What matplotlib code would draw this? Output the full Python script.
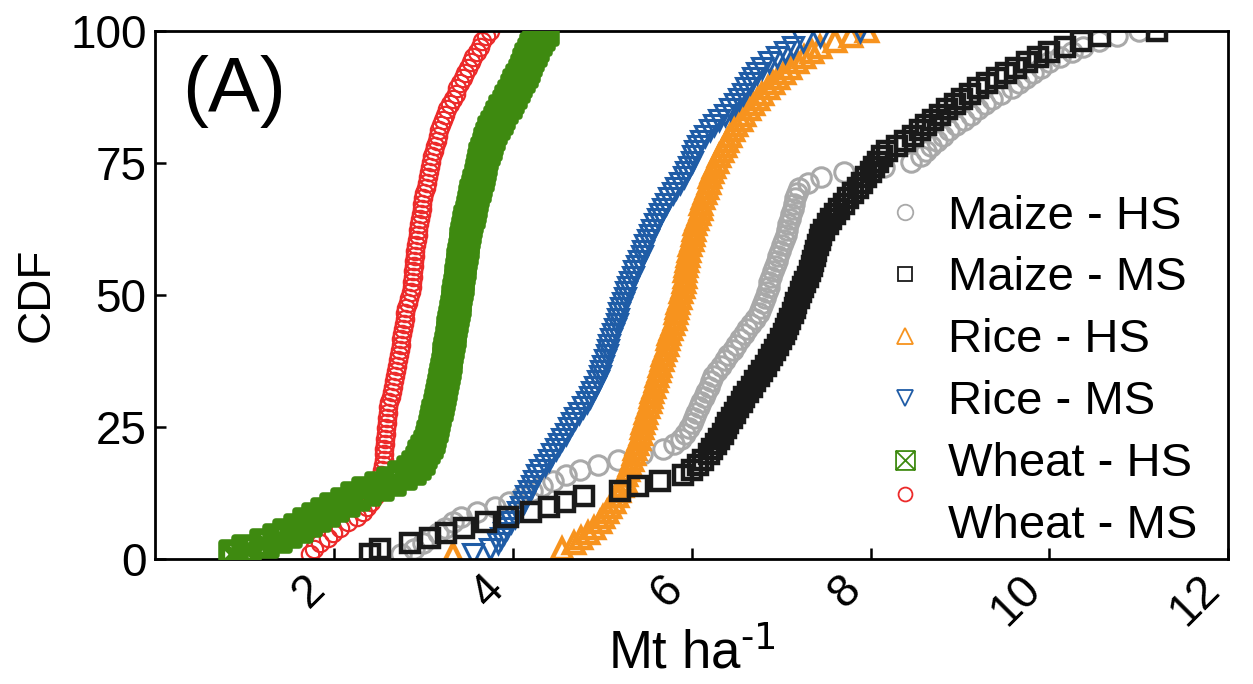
import numpy as np
import matplotlib
matplotlib.use("Agg")
import matplotlib.pyplot as plt
from matplotlib.path import Path
from matplotlib.transforms import Affine2D

plt.rcParams['font.family'] = ['Liberation Sans', 'DejaVu Sans']
plt.rcParams['mathtext.default'] = 'regular'

# Sorted yield samples (Mt ha-1), one per CDF step
maize_hs = [2.75, 2.90, 3.00, 3.08, 3.16, 3.24, 3.33, 3.42, 3.60, 3.80, 3.96, 4.10, 4.22, 4.33, 4.45, 4.60, 4.75, 4.95, 5.18, 5.45,
            5.68, 5.80, 5.88, 5.93, 5.97, 6.00, 6.03, 6.05, 6.08, 6.11, 6.14, 6.16, 6.19, 6.22, 6.24, 6.28, 6.33, 6.37, 6.41, 6.46,
            6.50, 6.54, 6.58, 6.62, 6.66, 6.71, 6.75, 6.78, 6.80, 6.82, 6.84, 6.86, 6.87, 6.89, 6.91, 6.93, 6.95, 6.97, 6.99, 7.01,
            7.03, 7.05, 7.07, 7.08, 7.10, 7.11, 7.13, 7.14, 7.16, 7.18, 7.20, 7.30, 7.45, 7.70, 8.15, 8.45, 8.56, 8.62, 8.68, 8.74,
            8.81, 8.88, 8.96, 9.04, 9.12, 9.20, 9.28, 9.36, 9.46, 9.58, 9.66, 9.74, 9.82, 9.91, 10.00, 10.12, 10.25, 10.37, 10.55, 10.75,
            11.00]
maize_ms = [2.40, 2.52, 2.85, 3.07, 3.25, 3.45, 3.70, 3.95, 4.20, 4.40, 4.58, 4.80, 5.20, 5.40, 5.65, 5.90, 6.00, 6.07, 6.13, 6.19,
            6.23, 6.27, 6.31, 6.35, 6.38, 6.41, 6.45, 6.48, 6.52, 6.56, 6.59, 6.63, 6.67, 6.71, 6.75, 6.79, 6.83, 6.86, 6.90, 6.93,
            6.97, 7.00, 7.03, 7.06, 7.08, 7.10, 7.13, 7.15, 7.17, 7.20, 7.22, 7.25, 7.27, 7.30, 7.32, 7.34, 7.36, 7.38, 7.39, 7.41,
            7.43, 7.45, 7.48, 7.52, 7.56, 7.60, 7.65, 7.70, 7.75, 7.80, 7.86, 7.90, 7.95, 8.00, 8.04, 8.08, 8.13, 8.18, 8.30, 8.39,
            8.47, 8.55, 8.62, 8.70, 8.78, 8.86, 8.94, 9.02, 9.11, 9.20, 9.30, 9.41, 9.52, 9.63, 9.75, 9.87, 10.00, 10.17, 10.35, 10.56,
            11.20]
rice_hs = [3.33, 4.55, 4.68, 4.76, 4.84, 4.91, 4.97, 5.01, 5.05, 5.09, 5.13, 5.16, 5.19, 5.22, 5.25, 5.27, 5.29, 5.31, 5.33, 5.35,
           5.37, 5.39, 5.41, 5.43, 5.44, 5.46, 5.48, 5.49, 5.51, 5.53, 5.54, 5.56, 5.58, 5.60, 5.61, 5.63, 5.65, 5.67, 5.68, 5.70,
           5.72, 5.74, 5.75, 5.77, 5.79, 5.81, 5.82, 5.84, 5.85, 5.87, 5.88, 5.90, 5.91, 5.92, 5.93, 5.94, 5.95, 5.96, 5.97, 5.98,
           6.00, 6.01, 6.03, 6.04, 6.06, 6.08, 6.10, 6.11, 6.13, 6.15, 6.17, 6.19, 6.21, 6.23, 6.25, 6.28, 6.31, 6.34, 6.37, 6.40,
           6.43, 6.46, 6.50, 6.55, 6.59, 6.64, 6.69, 6.74, 6.79, 6.85, 6.91, 6.97, 7.03, 7.10, 7.18, 7.26, 7.34, 7.43, 7.60, 7.78,
           7.96]
rice_ms = [3.55, 3.75, 3.83, 3.87, 3.90, 3.94, 3.98, 4.02, 4.06, 4.09, 4.12, 4.15, 4.18, 4.21, 4.24, 4.27, 4.31, 4.36, 4.40, 4.44,
           4.48, 4.52, 4.55, 4.59, 4.63, 4.66, 4.70, 4.74, 4.79, 4.83, 4.86, 4.89, 4.92, 4.95, 4.97, 4.99, 5.01, 5.03, 5.05, 5.07,
           5.08, 5.10, 5.12, 5.14, 5.16, 5.18, 5.19, 5.21, 5.23, 5.25, 5.27, 5.29, 5.31, 5.34, 5.36, 5.39, 5.41, 5.44, 5.46, 5.48,
           5.51, 5.53, 5.56, 5.59, 5.62, 5.65, 5.68, 5.71, 5.75, 5.79, 5.83, 5.87, 5.91, 5.94, 5.97, 6.00, 6.02, 6.04, 6.07, 6.10,
           6.15, 6.20, 6.25, 6.31, 6.37, 6.43, 6.49, 6.53, 6.57, 6.61, 6.65, 6.69, 6.73, 6.79, 6.87, 6.95, 7.04, 7.13, 7.25, 7.43,
           7.88]
wheat_hs = [0.87, 1.02, 1.22, 1.36, 1.48, 1.60, 1.70, 1.80, 1.90, 2.00, 2.12, 2.24, 2.36, 2.50, 2.64, 2.76, 2.86, 2.92, 2.96, 2.99,
            3.02, 3.05, 3.07, 3.09, 3.105, 3.12, 3.13, 3.145, 3.16, 3.17, 3.185, 3.20, 3.21, 3.22, 3.23, 3.24, 3.25, 3.26, 3.27, 3.28,
            3.29, 3.30, 3.305, 3.31, 3.32, 3.33, 3.34, 3.35, 3.36, 3.37, 3.38, 3.39, 3.395, 3.40, 3.41, 3.42, 3.425, 3.43, 3.44, 3.45,
            3.46, 3.47, 3.48, 3.49, 3.50, 3.52, 3.53, 3.54, 3.56, 3.57, 3.59, 3.60, 3.62, 3.63, 3.64, 3.66, 3.67, 3.69, 3.71, 3.72,
            3.74, 3.77, 3.80, 3.83, 3.86, 3.89, 3.93, 3.96, 3.99, 4.02, 4.05, 4.08, 4.11, 4.14, 4.16, 4.18, 4.21, 4.24, 4.27, 4.30,
            4.35]
wheat_ms = [1.73, 1.78, 1.85, 1.93, 1.99, 2.07, 2.16, 2.26, 2.32, 2.37, 2.42, 2.46, 2.49, 2.51, 2.52, 2.53, 2.54, 2.55, 2.555, 2.56,
            2.565, 2.57, 2.575, 2.58, 2.585, 2.59, 2.595, 2.60, 2.61, 2.62, 2.64, 2.65, 2.66, 2.67, 2.68, 2.70, 2.71, 2.72, 2.73, 2.74,
            2.75, 2.755, 2.765, 2.77, 2.78, 2.79, 2.80, 2.81, 2.83, 2.845, 2.86, 2.87, 2.875, 2.88, 2.89, 2.895, 2.90, 2.905, 2.91, 2.92,
            2.93, 2.94, 2.945, 2.95, 2.96, 2.97, 2.98, 2.99, 3.00, 3.01, 3.025, 3.04, 3.05, 3.06, 3.075, 3.09, 3.10, 3.12, 3.13, 3.15,
            3.165, 3.18, 3.20, 3.22, 3.24, 3.27, 3.30, 3.33, 3.36, 3.38, 3.41, 3.44, 3.47, 3.50, 3.53, 3.56, 3.60, 3.63, 3.66, 3.70,
            3.74]

labels = ['Maize - HS', 'Maize - MS', 'Rice - HS', 'Rice - MS', 'Wheat - HS', 'Wheat - MS']
xticks = [2, 4, 6, 8, 10, 12]
yticks = [0, 25, 50, 75, 100]

# boxed-x marker
boxx = Path([(-1, -1), (1, -1), (1, 1), (-1, 1), (-1, -1), (-1, -1), (1, 1), (-1, 1), (1, -1)],
            [Path.MOVETO, Path.LINETO, Path.LINETO, Path.LINETO, Path.CLOSEPOLY,
             Path.MOVETO, Path.LINETO, Path.MOVETO, Path.LINETO])

styles = [
    dict(marker='o', color='#a9a9a9', ms=14, mew=2.2, z=2),
    dict(marker='s', color='#1a1a1a', ms=12.5, mew=3.2, z=3),
    dict(marker='^', color='#f7931e', ms=14, mew=3.2, z=2),
    dict(marker='v', color='#1f5ca6', ms=14, mew=2.2, z=2),
    dict(marker=boxx, color='#3e8a10', ms=17, mew=5.0, z=3),
    dict(marker='o', color='#ec2a2a', ms=12.5, mew=1.6, z=2),
]
series = [maize_hs, maize_ms, rice_hs, rice_ms, wheat_hs, wheat_ms]

fig = plt.figure(figsize=(12.53, 6.84), dpi=100)
ax = fig.add_axes([0.1237, 0.1827, 0.8566, 0.772])

handles = []
for vals, st, lab in zip(series, styles, labels):
    x = np.sort(np.asarray(vals, dtype=float))
    y = 100.0 * np.arange(1, len(x) + 1) / len(x)
    h, = ax.plot(x, y, linestyle='none', marker=st['marker'], ms=st['ms'],
                 mfc='none', mec=st['color'], mew=st['mew'], zorder=st['z'], label=lab)
    handles.append(h)

ax.set_xlim(0, 12)
ax.set_ylim(0, 100)
ax.set_xticks(xticks)
ax.set_xticklabels([str(t) for t in xticks], rotation=45, ha='right')
ax.set_yticks(yticks)
ax.tick_params(direction='in', length=8, width=1.8, labelsize=33, pad=6)
for s in ax.spines.values():
    s.set_linewidth(2)

ax.set_ylabel('CDF', fontsize=33, labelpad=8)
ax.set_xlabel('Mt ha$^{\\text{-1}}$', fontsize=38, labelpad=-4)
ax.text(0.025, 0.955, '(A)', transform=ax.transAxes, fontsize=56, va='top', ha='left')

leg = ax.legend(handles=handles, loc='upper left', bbox_to_anchor=(0.657, 0.735),
                frameon=False, fontsize=34, markerscale=0.8, handlelength=0.9,
                handletextpad=0.45, labelspacing=0.38, borderpad=0)
for lh in leg.legend_handles:
    lh.set_markeredgewidth(1.3)
# the last legend marker sits above its label in the original
last = leg.legend_handles[-1]
last.set_transform(last.get_transform() + Affine2D().translate(0, 28))

fig.savefig('out.png', dpi=100)
